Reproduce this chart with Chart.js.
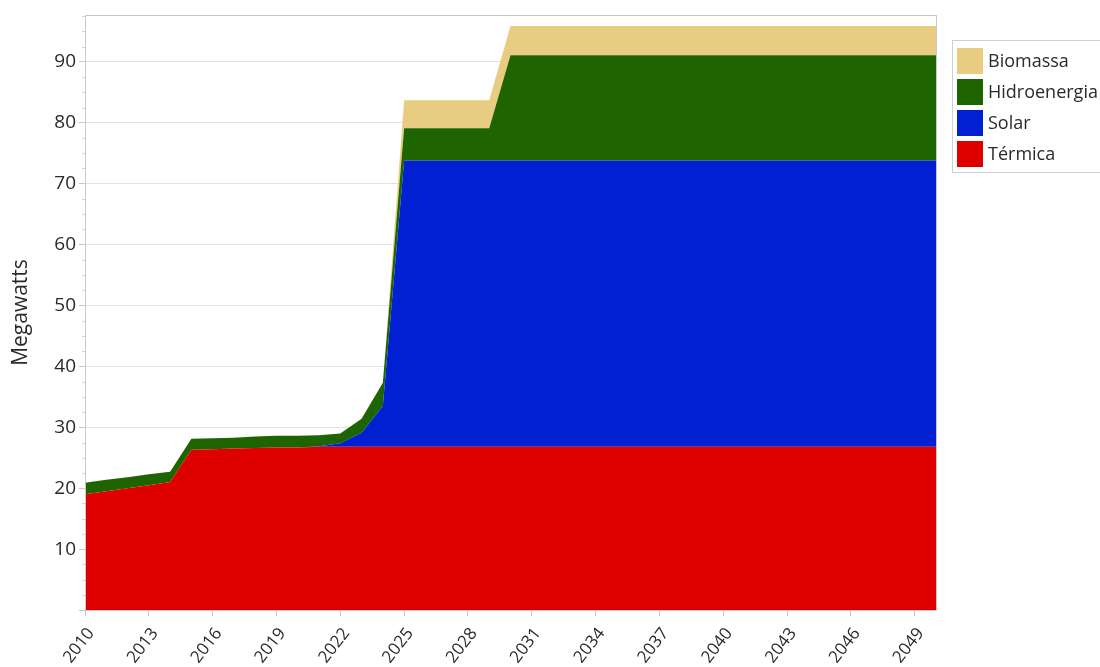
<!DOCTYPE html>
<html>
<head>
<meta charset="utf-8">
<script src="https://cdn.jsdelivr.net/npm/chart.js@4.4.1/dist/chart.umd.min.js"></script>
<style>
  html, body { margin: 0; padding: 0; background: #fff; overflow: hidden; }
  #wrap { width: 1100px; height: 667px; }
</style>
</head>
<body>
<div id="wrap"><canvas id="chart"></canvas></div>
<script>
// --- Data ---
const years = [];
for (let y = 2010; y <= 2050; y++) years.push(y);

// Térmica: 2010..2050
const termica = [
  19.0, 19.5, 20.0, 20.5, 21.0, 26.3, 26.4, 26.5, 26.6, 26.7,
  26.7, 26.8, 26.8, 26.8, 26.8, 26.8, 26.8, 26.8, 26.8, 26.8,
  26.8, 26.8, 26.8, 26.8, 26.8, 26.8, 26.8, 26.8, 26.8, 26.8,
  26.8, 26.8, 26.8, 26.8, 26.8, 26.8, 26.8, 26.8, 26.8, 26.8,
  26.8
];
const solar = [
  0, 0, 0, 0, 0, 0, 0, 0, 0, 0,
  0, 0.1, 0.6, 2.3, 6.7, 47.0, 47.0, 47.0, 47.0, 47.0,
  47.0, 47.0, 47.0, 47.0, 47.0, 47.0, 47.0, 47.0, 47.0, 47.0,
  47.0, 47.0, 47.0, 47.0, 47.0, 47.0, 47.0, 47.0, 47.0, 47.0,
  47.0
];
const hidro = [
  1.9, 1.9, 1.8, 1.8, 1.7, 1.8, 1.8, 1.8, 1.9, 1.9,
  1.9, 1.8, 1.6, 2.3, 3.8, 5.3, 5.3, 5.3, 5.3, 5.3,
  17.3, 17.3, 17.3, 17.3, 17.3, 17.3, 17.3, 17.3, 17.3, 17.3,
  17.3, 17.3, 17.3, 17.3, 17.3, 17.3, 17.3, 17.3, 17.3, 17.3,
  17.3
];
const biomassa = [
  0, 0, 0, 0, 0, 0, 0, 0, 0, 0,
  0, 0, 0, 0, 0, 4.6, 4.6, 4.6, 4.6, 4.6,
  4.8, 4.8, 4.8, 4.8, 4.8, 4.8, 4.8, 4.8, 4.8, 4.8,
  4.8, 4.8, 4.8, 4.8, 4.8, 4.8, 4.8, 4.8, 4.8, 4.8,
  4.8
];

const seriesNames = ['Térmica', 'Solar', 'Hidroenergia', 'Biomassa'];
const seriesColors = ['#DE0000', '#0020D2', '#1E6400', '#E8CC82'];
const yMax = 97.7;

const FONT = 'Open Sans';
const textColor = '#2a2a2a';
const axisColor = '#c8c8c8';

// --- Plugins: plot frame, minor y ticks, boxed legend ---
const framePlugin = {
  id: 'frame',
  afterDraw(chart) {
    const { ctx, chartArea: a, scales } = chart;
    ctx.save();
    ctx.strokeStyle = axisColor;
    ctx.lineWidth = 1;
    ctx.strokeRect(a.left + 0.5, a.top + 0.5, a.right - a.left, a.bottom - a.top);

    // minor ticks on y, every 2.5
    const y = scales.y;
    ctx.strokeStyle = '#d8d8d8';
    for (let v = 2.5; v < yMax; v += 2.5) {
      if (v % 10 === 0) continue;
      const py = Math.round(y.getPixelForValue(v)) + 0.5;
      ctx.beginPath();
      ctx.moveTo(a.left - 3, py);
      ctx.lineTo(a.left, py);
      ctx.stroke();
    }
    ctx.restore();
  }
};

const legendPlugin = {
  id: 'boxLegend',
  afterDraw(chart) {
    const { ctx } = chart;
    const ds = chart.data.datasets.slice().reverse();
    const x0 = 952, y0 = 40, rowH = 31, box = 26;
    ctx.save();
    ctx.strokeStyle = '#d0d0d0';
    ctx.lineWidth = 1;
    ctx.strokeRect(x0 + 0.5, y0 + 0.5, 200, 132);
    ctx.font = `18px "${FONT}"`;
    ctx.textBaseline = 'middle';
    ctx.textAlign = 'left';
    ds.forEach((d, i) => {
      const cy = y0 + 21 + i * rowH;
      ctx.fillStyle = d.backgroundColor;
      ctx.fillRect(x0 + 5, cy - box / 2, box, box);
      ctx.fillStyle = textColor;
      ctx.fillText(d.label, x0 + 36, cy + 1);
    });
    ctx.restore();
  }
};

const seriesData = [termica, solar, hidro, biomassa];

new Chart(document.getElementById('chart'), {
  type: 'line',
  data: {
    labels: years,
    datasets: seriesNames.map((name, i) => ({
      label: name,
      data: seriesData[i],
      backgroundColor: seriesColors[i],
      borderColor: seriesColors[i],
      borderWidth: 0,
      pointRadius: 0,
      tension: 0,
      fill: i === 0 ? 'origin' : '-1',
    })),
  },
  options: {
    responsive: true,
    maintainAspectRatio: false,
    animation: false,
    layout: { padding: { top: 15, right: 164, left: 0, bottom: 0 } },
    plugins: {
      legend: { display: false },
      tooltip: { enabled: false },
    },
    scales: {
      x: {
        type: 'linear',
        min: 2010,
        max: 2050,
        grid: { drawOnChartArea: false, color: axisColor, tickLength: 6 },
        border: { color: axisColor },
        ticks: {
          stepSize: 3,
          includeBounds: false,
          autoSkip: false,
          minRotation: 52,
          maxRotation: 52,
          padding: 8,
          labelOffset: 6,
          color: textColor,
          font: { family: FONT, size: 17 },
          callback: (v) => String(v),
        },
        afterFit: (s) => { s.height = 57; },
      },
      y: {
        stacked: true,
        min: 0,
        max: yMax,
        grid: { color: '#e2e2e2', tickColor: axisColor, tickLength: 6 },
        border: { color: axisColor },
        ticks: {
          stepSize: 10,
          includeBounds: false,
          padding: 3,
          color: textColor,
          font: { family: FONT, size: 19 },
          callback: (v) => (v === 0 ? '' : v),
        },
        title: {
          display: true,
          text: 'Megawatts',
          color: textColor,
          font: { family: FONT, size: 21 },
          padding: { top: 8, bottom: 0 },
        },
        afterFit: (s) => { s.width = 85; },
      },
    },
  },
  plugins: [framePlugin, legendPlugin],
});
</script>
</body>
</html>
